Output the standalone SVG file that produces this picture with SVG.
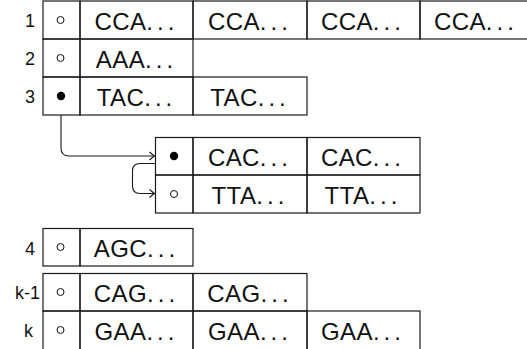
<svg xmlns="http://www.w3.org/2000/svg" width="527" height="349" viewBox="0 0 527 349">
  <style>
    .cell { fill: none; stroke: #1a1a1a; stroke-width: 1.2; }
    .seq { font-family: "Liberation Sans", Arial, sans-serif; font-size: 24px; fill: #111; text-anchor: middle; letter-spacing: 0.4px; }
    .seq tspan { word-spacing: -2.6px; letter-spacing: 0; }
    .idx { font-family: "Liberation Sans", Arial, sans-serif; font-size: 18px; fill: #111; text-anchor: end; }
    .open { fill: #fff; stroke: #111; stroke-width: 1; }
    .full { fill: #000; }
    .link { fill: none; stroke: #1a1a1a; stroke-width: 1.1; marker-end: url(#tip); }
  </style>
  <defs>
    <marker id="tip" viewBox="-6 -5 7 10" refX="0" refY="0" markerWidth="7" markerHeight="10" markerUnits="userSpaceOnUse" orient="auto">
      <path d="M -5 -4 Q -1.5 -1 0 0 Q -1.5 1 -5 4" fill="none" stroke="#1a1a1a" stroke-width="1.1"/>
    </marker>
  </defs>
  <rect width="527" height="349" fill="#fff"/>

  <!-- row 1 -->
  <g id="row1">
    <text class="idx" x="35" y="27">1</text>
    <rect class="cell" x="43" y="1" width="37" height="38"/>
    <circle class="open" cx="60.5" cy="20" r="3.5"/>
    <rect class="cell" x="80" y="1" width="113" height="38"/>
    <rect class="cell" x="193" y="1" width="114" height="38"/>
    <rect class="cell" x="307" y="1" width="113" height="38"/>
    <rect class="cell" x="420" y="1" width="113" height="38"/>
    <text class="seq" x="134.5" y="30">CCA<tspan>. . .</tspan></text>
    <text class="seq" x="248" y="30">CCA<tspan>. . .</tspan></text>
    <text class="seq" x="361" y="30">CCA<tspan>. . .</tspan></text>
    <text class="seq" x="474" y="30">CCA<tspan>. . .</tspan></text>
  </g>

  <!-- row 2 -->
  <g id="row2">
    <text class="idx" x="35" y="65">2</text>
    <rect class="cell" x="43" y="39" width="37" height="38"/>
    <circle class="open" cx="60.5" cy="58" r="3.5"/>
    <rect class="cell" x="80" y="39" width="113" height="38"/>
    <text class="seq" x="134.5" y="68">AAA<tspan>. . .</tspan></text>
  </g>

  <!-- row 3 -->
  <g id="row3">
    <text class="idx" x="35" y="103">3</text>
    <rect class="cell" x="43" y="77" width="37" height="38"/>
    <circle class="full" cx="61" cy="96" r="4.2"/>
    <rect class="cell" x="80" y="77" width="113" height="38"/>
    <rect class="cell" x="193" y="77" width="114" height="38"/>
    <text class="seq" x="134.5" y="106">TAC<tspan>. . .</tspan></text>
    <text class="seq" x="248" y="106">TAC<tspan>. . .</tspan></text>
  </g>

  <!-- chained block -->
  <g id="chain">
    <rect class="cell" x="155.5" y="137.5" width="37.5" height="37.5"/>
    <circle class="full" cx="174" cy="156" r="4.2"/>
    <rect class="cell" x="193" y="137.5" width="114" height="37.5"/>
    <rect class="cell" x="307" y="137.5" width="113" height="37.5"/>
    <text class="seq" x="248" y="166">CAC<tspan>. . .</tspan></text>
    <text class="seq" x="361" y="166">CAC<tspan>. . .</tspan></text>
    <rect class="cell" x="155.5" y="175" width="37.5" height="38"/>
    <circle class="open" cx="174" cy="194" r="3.5"/>
    <rect class="cell" x="193" y="175" width="114" height="38"/>
    <rect class="cell" x="307" y="175" width="113" height="38"/>
    <text class="seq" x="248" y="204">TTA<tspan>. . .</tspan></text>
    <text class="seq" x="361" y="204">TTA<tspan>. . .</tspan></text>
  </g>

  <!-- row 4 -->
  <g id="row4">
    <text class="idx" x="35" y="255">4</text>
    <rect class="cell" x="43" y="228.5" width="37" height="37.5"/>
    <circle class="open" cx="60.5" cy="247" r="3.5"/>
    <rect class="cell" x="80" y="228.5" width="113" height="37.5"/>
    <text class="seq" x="134.5" y="257">AGC<tspan>. . .</tspan></text>
  </g>

  <!-- row k-1 -->
  <g id="rowk1">
    <text class="idx" x="40" y="299">k-1</text>
    <rect class="cell" x="43" y="273.5" width="37" height="37.5"/>
    <circle class="open" cx="60.5" cy="292" r="3.5"/>
    <rect class="cell" x="80" y="273.5" width="113" height="37.5"/>
    <rect class="cell" x="193" y="273.5" width="114" height="37.5"/>
    <text class="seq" x="134.5" y="302">CAG<tspan>. . .</tspan></text>
    <text class="seq" x="248" y="302">CAG<tspan>. . .</tspan></text>
  </g>

  <!-- row k -->
  <g id="rowk">
    <text class="idx" x="33" y="337">k</text>
    <rect class="cell" x="43" y="311" width="37" height="40"/>
    <circle class="open" cx="60.5" cy="330" r="3.5"/>
    <rect class="cell" x="80" y="311" width="113" height="40"/>
    <rect class="cell" x="193" y="311" width="114" height="40"/>
    <rect class="cell" x="307" y="311" width="113" height="40"/>
    <text class="seq" x="134.5" y="340">GAA<tspan>. . .</tspan></text>
    <text class="seq" x="248" y="340">GAA<tspan>. . .</tspan></text>
    <text class="seq" x="361" y="340">GAA<tspan>. . .</tspan></text>
  </g>

  <!-- connectors -->
  <g id="connectors">
    <path class="link" d="M 61 115 V 148 Q 61 156 69 156 H 154.5"/>
    <path class="link" d="M 155.5 163.5 H 140 Q 132.5 163.5 132.5 171 V 186 Q 132.5 193.5 140 193.5 H 154.5"/>
  </g>
</svg>
